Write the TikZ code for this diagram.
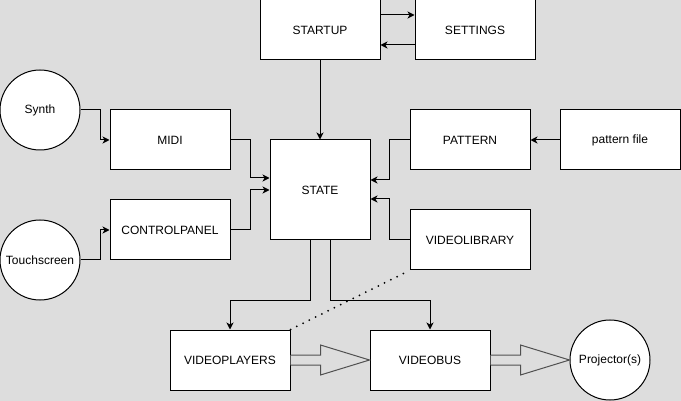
\documentclass[tikz,border=0pt]{standalone}
\usepackage{fontspec}
\setmainfont{Liberation Sans}
\usetikzlibrary{arrows.meta,calc}
\definecolor{canvas}{RGB}{221,221,221}
\definecolor{flexgray}{RGB}{80,80,80}

\begin{document}
\begin{tikzpicture}[
    x=1pt, y=-1pt,
    block/.style={rectangle, draw=black, fill=white, line width=1pt,
        minimum width=120pt, minimum height=60pt, inner sep=2pt,
        font=\fontsize{12}{14}\selectfont},
    device/.style={circle, draw=black, fill=white, line width=1pt,
        minimum size=80pt, inner sep=0pt, font=\fontsize{12}{14}\selectfont},
    edge/.style={line width=1pt, -{Stealth[length=7pt,width=7pt,inset=2pt]}},
    link/.style={line width=2pt, line cap=round, dash pattern=on 0pt off 7pt},
    flex/.style={draw=flexgray, line width=1pt, fill=canvas}
]
    \useasboundingbox (0,0) rectangle (681,401);
    \fill[canvas] (0,0) rectangle (681,401);

    % blocks
    \node[block] (startup) at (320,30) {STARTUP};
    \node[block] (settings) at (475,30) {SETTINGS};
    \node[device] (synth) at (40,110) {Synth};
    \node[device] (touch) at (40,260) {Touchscreen};
    \node[block] (midi) at (170,140) {MIDI};
    \node[block] (ctrl) at (170,230) {CONTROLPANEL};
    \node[block, minimum width=100pt, minimum height=100pt] (state) at (320,190) {STATE};
    \node[block] (pattern) at (470,140) {PATTERN};
    \node[block] (pfile) at (620,140) {pattern file};
    \node[block] (vlib) at (470,240) {VIDEOLIBRARY};
    \node[block] (vplayers) at (230,360) {VIDEOPLAYERS};
    \node[block] (vbus) at (430,360) {VIDEOBUS};
    \node[device] (proj) at (610,360) {Projector(s)};

    % connectors
    \draw[edge] ([yshift=15pt]startup.east) -- ([yshift=15pt]settings.west);
    \draw[edge] ([yshift=-15pt]settings.west) -- ([yshift=-15pt]startup.east);
    \draw[edge] (startup.south) -- (state.north);
    \draw[edge] (synth.east) -- ++(20,0) |- (midi.west);
    \draw[edge] (touch.east) -- ++(20,0) |- (ctrl.west);
    \draw[edge] (midi.east) -- ++(20,0) |- ([yshift=12pt]state.west);
    \draw[edge] (ctrl.east) -- ++(20,0) |- (state.west);
    \draw[edge] (pfile.west) -- (pattern.east);
    \draw[edge] (pattern.west) -- ++(-20,0) |- ([yshift=10pt]state.east);
    \draw[edge] (vlib.west) -- ++(-20,0) |- ([yshift=-9pt]state.east);
    \draw[edge] ([xshift=-10pt]state.south) -- ++(0,60) -| (vplayers.north);
    \draw[edge] ([xshift=10pt]state.south) -- ++(0,60) -| (vbus.north);
    \draw[link] (vplayers.north east) -- (vlib.south west);

    % flow arrows
    \draw[flex] ($(vplayers.east)+(0,-5)$) -- ($(vplayers.east)+(30,-5)$)
        -- ($(vplayers.east)+(30,-15)$) -- (vbus.west)
        -- ($(vplayers.east)+(30,15)$) -- ($(vplayers.east)+(30,5)$)
        -- ($(vplayers.east)+(0,5)$);
    \draw[flex] ($(vbus.east)+(0,-5)$) -- ($(vbus.east)+(30,-5)$)
        -- ($(vbus.east)+(30,-15)$) -- (proj.west)
        -- ($(vbus.east)+(30,15)$) -- ($(vbus.east)+(30,5)$)
        -- ($(vbus.east)+(0,5)$);
\end{tikzpicture}
\end{document}
